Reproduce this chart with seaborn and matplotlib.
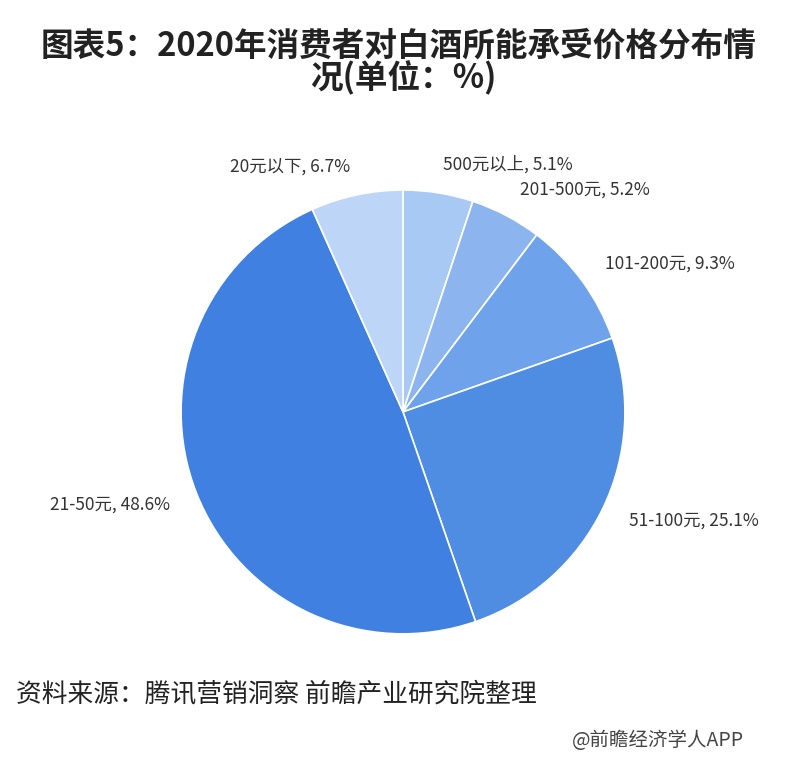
import matplotlib
matplotlib.use("Agg")
import matplotlib.pyplot as plt
import seaborn as sns

sns.set_theme(style="white")
plt.rcParams["font.family"] = ["Noto Sans CJK SC", "DejaVu Sans"]

# Price bands, clockwise from 12 o'clock
categories = ["500元以上", "201-500元", "101-200元", "51-100元", "21-50元", "20元以下"]
shares = [5.1, 5.2, 9.3, 25.1, 48.6, 6.7]
colors = ["#a9c9f5", "#8cb5ef", "#6ea2ea", "#4f8de3", "#3f80e0", "#bdd6f8"]

fig = plt.figure(figsize=(8.06, 7.6), dpi=100)
fig.patch.set_facecolor("white")

ax = fig.add_axes([0.5 - 0.2755, 0.458 - 0.292, 0.551, 0.584])
labels = [f"{c}, {v}%" for c, v in zip(categories, shares)]
wedges, texts = ax.pie(
    shares,
    labels=labels,
    colors=colors,
    startangle=90,
    counterclock=False,
    labeldistance=1.13,
    wedgeprops={"edgecolor": "white", "linewidth": 1.2},
    textprops={"fontsize": 12.5, "color": "#333333"},
)
ax.set_xlim(-1, 1)
ax.set_ylim(-1, 1)
ax.set_aspect("equal")

fig.text(0.05, 0.94, "图表5：2020年消费者对白酒所能承受价格分布情", fontsize=23.5,
         fontweight="bold", color="#222222", va="center")
fig.text(0.5, 0.897, "况(单位：%)", fontsize=23.5, fontweight="bold",
         color="#222222", va="center", ha="center")
fig.text(0.02, 0.087, "资料来源：腾讯营销洞察 前瞻产业研究院整理", fontsize=18.5,
         color="#222222", va="center")
fig.text(0.71, 0.025, "@前瞻经济学人APP", fontsize=14, color="#444444", va="center")

fig.savefig("out.png", dpi=100, facecolor="white")
